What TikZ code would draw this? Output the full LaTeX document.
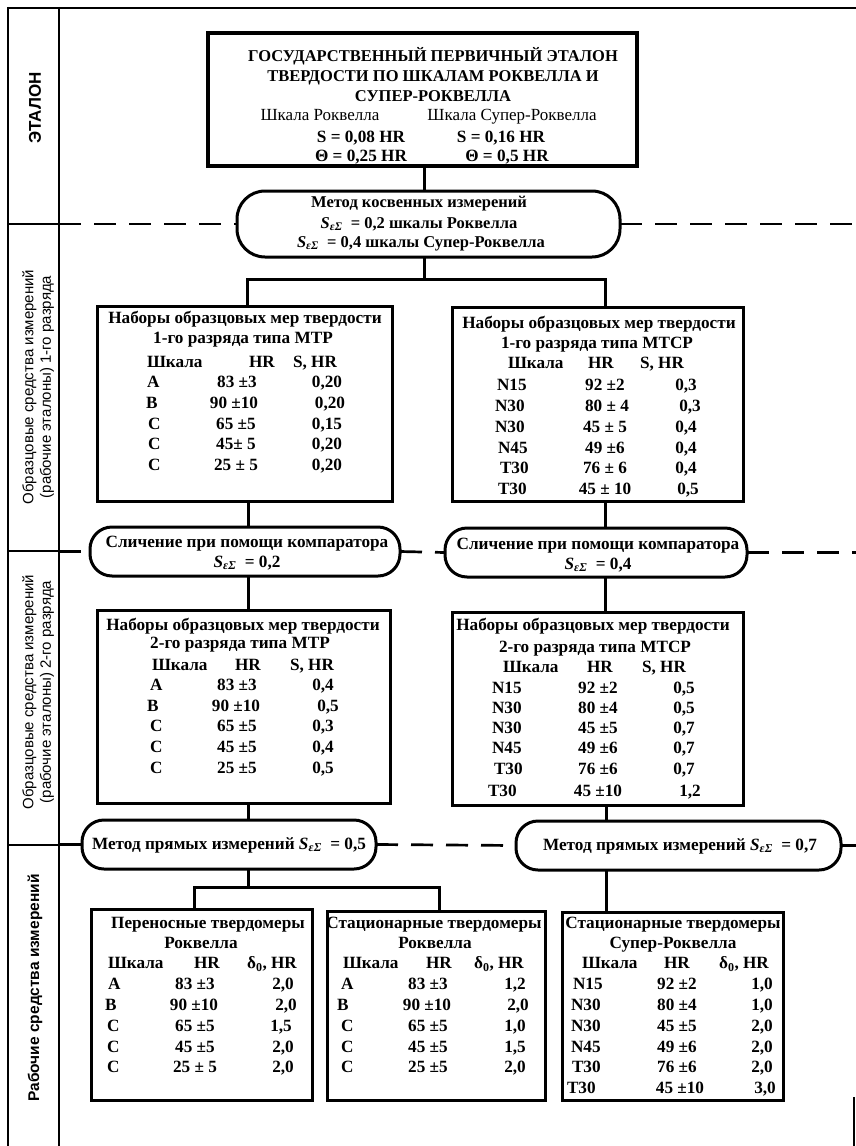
\documentclass[tikz,border=0pt]{standalone}
\usepackage{fontspec}
\setmainfont{Liberation Serif}
\setsansfont{Liberation Sans}
\newcommand\sig{{\itshape S}\textsubscript{\itshape ε\kern0.3ptΣ}}
\newcommand\dz{δ\textsubscript{0}}
\newcommand\fT{\fontsize{17.2}{20}\bfseries\selectfont}
\newcommand\fP{\fontsize{16.5}{20}\bfseries\selectfont}
\newcommand\fTitle{\fontsize{16.5}{20}\bfseries\selectfont}
\newcommand\fSc{\fontsize{17}{20}\selectfont}
\newcommand\mkbox[6]{\node[#6, minimum width={#4-#2}, minimum height={#5-#3}] (#1) at ({(#2+#4)/2},{(#3+#5)/2}) {};}
\newcommand\trow[8]{%
  \node[txtl] (#1a) at (#3,#2) {#4};
  \node[txt] (#1b) at (#5,#2) {#6};
  \node[txt] (#1c) at (#7,#2) {#8};}
\begin{document}
\begin{tikzpicture}[x=1pt,y=-1pt,
  every node/.style={inner sep=0pt, outer sep=0pt},
  frame/.style={line width=2.4pt},
  mbox/.style={draw, line width=3pt, rectangle},
  bigbox/.style={draw, line width=4.4pt, rectangle},
  pillA/.style={draw, line width=3pt, rectangle, rounded corners=28pt},
  pillB/.style={draw, line width=3pt, rectangle, rounded corners=22pt},
  conn/.style={line width=3pt},
  dashln/.style={line width=2.7pt, dash pattern=on 22pt off 13pt},
  txt/.style={font=\fT, anchor=base},
  txtl/.style={font=\fT, anchor=base west},
  ptxt/.style={font=\fP, anchor=base},
  ttl/.style={font=\fTitle, anchor=base},
  sctxt/.style={font=\fSc, anchor=base},
  side/.style={font=\sffamily\fontsize{15}{17.5}\selectfont, rotate=90, align=center},
  sideb/.style={font=\sffamily\bfseries\fontsize{17}{20}\selectfont, rotate=90},
  sidec/.style={font=\sffamily\bfseries\fontsize{15.5}{18}\selectfont, rotate=90}]
\useasboundingbox (0,0) rectangle (856,1146);
% frame and left column
\draw[frame] (8,8) -- (856,8);
\draw[frame] (8,6.8) -- (8,1146);
\draw[frame] (59,6.8) -- (59,1146);
\draw[frame] (8,224) -- (59,224);
\draw[frame] (8,551) -- (59,551);
\draw[frame] (8,845) -- (59,845);
\draw[line width=1.4pt] (854,1097) -- (854,1146);
\coordinate (cl) at (59,0);
\coordinate (cr) at (856,0);
\node[sideb] (l1) at (35,108) {ЭТАЛОН};
\node[side] (l2) at (38,387) {Образцовые средства измерений\\(рабочие эталоны) 1-го разряда};
\node[side] (l3) at (38,692) {Образцовые средства измерений\\(рабочие эталоны) 2-го разряда};
\node[sidec] (l4) at (35,988) {Рабочие средства измерений};
% top box
\mkbox{top}{208}{33}{637}{166}{bigbox}
\node[ttl] (t1) at (433,61) {ГОСУДАРСТВЕННЫЙ ПЕРВИЧНЫЙ ЭТАЛОН};
\node[ttl] (t2) at (433,81) {ТВЕРДОСТИ ПО ШКАЛАМ РОКВЕЛЛА И};
\node[ttl] (t3) at (433,101) {СУПЕР-РОКВЕЛЛА};
\node[sctxt] (t4) at (320,120) {Шкала Роквелла};
\node[sctxt] (t5) at (512,120) {Шкала Супер-Роквелла};
\node[txt] (t6) at (361,142) {S = 0,08 HR};
\node[txt] (t7) at (501,142) {S = 0,16 HR};
\node[txt] (t8) at (361,161) {Θ = 0,25 HR};
\node[txt] (t9) at (507,161) {Θ = 0,5 HR};
% top pill
\mkbox{p1}{237}{191}{620}{257}{pillA}
\node[ptxt] (p1a) at (419,207) {Метод косвенных измерений};
\node[ptxt] (p1b) at (419,228) {\sig~~=~0,2 шкалы Роквелла};
\node[ptxt] (p1c) at (421,247) {\sig~~=~0,4 шкалы Супер-Роквелла};
% first rank boxes
\mkbox{mtp1}{97}{306}{392}{501}{mbox}
\node[txt] (a1) at (245,323) {Наборы образцовых мер твердости};
\node[txt] (a2) at (243,343) {1-го разряда типа МТР};
\trow{a3}{367}{147}{Шкала}{262}{HR}{315}{S, HR}
\trow{a4}{387.5}{147}{A}{237}{83 ±3}{327}{0,20}
\trow{a5}{408.3}{146}{B}{234}{90 ±10}{330}{0,20}
\trow{a6}{429.1}{148}{C}{236}{65 ±5}{327}{0,15}
\trow{a7}{449.9}{148}{C}{236}{45± 5}{327}{0,20}
\trow{a8}{470.7}{148}{C}{236}{25 ± 5}{327}{0,20}
\mkbox{mtcp1}{452}{307}{743}{501}{mbox}
\node[txt] (b1) at (599,328) {Наборы образцовых мер твердости};
\node[txt] (b2) at (597,348) {1-го разряда типа МТСР};
\trow{b3}{368.5}{508}{Шкала}{601}{HR}{662}{S, HR}
\trow{b4}{390}{497}{N15}{605}{92 ±2}{686}{0,3}
\trow{b5}{411}{495}{N30}{607}{80 ± 4}{690}{0,3}
\trow{b6}{432}{495}{N30}{605}{45 ± 5}{686}{0,4}
\trow{b7}{453}{498}{N45}{605}{49 ±6}{686}{0,4}
\trow{b8}{473.5}{500}{T30}{605}{76 ± 6}{686}{0,4}
\trow{b9}{494}{498}{T30}{605}{45 ± 10}{688}{0,5}
% comparator pills
\mkbox{s1}{90}{527}{400}{576}{pillB}
\node[txt] (s1a) at (247,547) {Сличение при помощи компаратора};
\node[txt] (s1b) at (247,567) {\sig~~=~0,2};
\mkbox{s2}{445}{528}{747}{577}{pillB}
\node[txt] (s2a) at (598,549) {Сличение при помощи компаратора};
\node[txt] (s2b) at (598,569) {\sig~~=~0,4};
% second rank boxes
\mkbox{mtp2}{97}{610}{390}{803}{mbox}
\node[txt] (c1) at (243,630.5) {Наборы образцовых мер твердости};
\node[txt] (c2) at (240,648.5) {2-го разряда типа МТР};
\trow{c3}{670.5}{152}{Шкала}{248}{HR}{312}{S, HR}
\trow{c4}{690.5}{150}{A}{237}{83 ±3}{323}{0,4}
\trow{c5}{711.5}{147}{B}{236}{90 ±10}{328}{0,5}
\trow{c6}{731.5}{150}{C}{237}{65 ±5}{323}{0,3}
\trow{c7}{752.5}{150}{C}{237}{45 ±5}{323}{0,4}
\trow{c8}{773.5}{150}{C}{237}{25 ±5}{323}{0,5}
\mkbox{mtcp2}{452}{612}{743}{805}{mbox}
\node[txt] (d1) at (593,630.5) {Наборы образцовых мер твердости};
\node[txt] (d2) at (595,652.5) {2-го разряда типа МТСР};
\trow{d3}{672.5}{503}{Шкала}{600}{HR}{664}{S, HR}
\trow{d4}{693.5}{492}{N15}{598}{92 ±2}{684}{0,5}
\trow{d5}{713.5}{492}{N30}{598}{80 ±4}{684}{0,5}
\trow{d6}{733.5}{492}{N30}{598}{45 ±5}{684}{0,7}
\trow{d7}{753.5}{492}{N45}{598}{49 ±6}{684}{0,7}
\trow{d8}{774.5}{494}{T30}{598}{76 ±6}{684}{0,7}
\trow{d9}{796.5}{488}{T30}{598}{45 ±10}{690}{1,2}
% direct measurement pills
\mkbox{m1}{82}{820}{376}{869}{pillB}
\node[txt] (m1a) at (229,849) {Метод прямых измерений \sig~~=~0,5};
\mkbox{m2}{516}{821}{841}{870}{pillB}
\node[txt] (m2a) at (680,850) {Метод прямых измерений \sig~~=~0,7};
% working instruments
\mkbox{per}{91}{909}{312}{1100}{mbox}
\node[txt] (e1) at (208,928.5) {Переносные твердомеры};
\node[txt] (e2) at (201,948.5) {Роквелла};
\trow{e3}{968.5}{108}{Шкала}{207}{HR}{272}{\dz, HR}
\trow{e4}{989.5}{108}{A}{195}{83 ±3}{283}{2,0}
\trow{e5}{1010.5}{105}{B}{194}{90 ±10}{286}{2,0}
\trow{e6}{1031.5}{107}{C}{195}{65 ±5}{281}{1,5}
\trow{e7}{1052.5}{107}{C}{195}{45 ±5}{283}{2,0}
\trow{e8}{1072.5}{107}{C}{195}{25 ± 5}{283}{2,0}
\mkbox{st1}{327}{911}{545}{1100}{mbox}
\node[txt] (f1) at (434,928.5) {Стационарные твердомеры};
\node[txt] (f2) at (435,948.5) {Роквелла};
\trow{f3}{968.5}{343}{Шкала}{439}{HR}{499}{\dz, HR}
\trow{f4}{989.5}{341}{A}{428}{83 ±3}{515}{1,2}
\trow{f5}{1010.5}{337}{B}{427}{90 ±10}{518}{2,0}
\trow{f6}{1031.5}{341}{C}{428}{65 ±5}{515}{1,0}
\trow{f7}{1052.5}{341}{C}{428}{45 ±5}{515}{1,5}
\trow{f8}{1072.5}{341}{C}{428}{25 ±5}{515}{2,0}
\mkbox{st2}{562}{912}{783}{1100}{mbox}
\node[txt] (g1) at (673,928.5) {Стационарные твердомеры};
\node[txt] (g2) at (673,948.5) {Супер-Роквелла};
\trow{g3}{968.5}{582}{Шкала}{677}{HR}{744}{\dz, HR}
\trow{g4}{989.5}{573}{N15}{677}{92 ±2}{762}{1,0}
\trow{g5}{1010.5}{571}{N30}{677}{80 ±4}{762}{1,0}
\trow{g6}{1031.5}{571}{N30}{677}{45 ±5}{762}{2,0}
\trow{g7}{1052.5}{571}{N45}{677}{49 ±6}{762}{2,0}
\trow{g8}{1072.5}{572}{T30}{677}{76 ±6}{762}{2,0}
\trow{g9}{1093.5}{567}{T30}{680}{45 ±10}{765}{3,0}
% connectors
\coordinate (xc) at (424,0);
\coordinate (xl) at (248,0);
\coordinate (xr) at (605,0);
\coordinate (xr2) at (606,0);
\coordinate (j0) at (424,279);
\coordinate (jl) at (247,279);
\coordinate (jr) at (605,279);
\coordinate (j2) at (248,887);
\coordinate (j2l) at (194,887);
\coordinate (j2r) at (439,887);
\draw[conn] (top.south -| xc) -- (p1.north -| xc);
\draw[conn] (p1.south -| xc) -- (j0);
\draw[conn] (jl |- mtp1.north) -- (jl) -- (jr) -- (jr |- mtcp1.north);
\draw[conn] (mtp1.south -| xl) -- (s1.north -| xl);
\draw[conn] (s1.south -| xl) -- (mtp2.north -| xl);
\draw[conn] (mtcp1.south -| xr) -- (s2.north -| xr);
\draw[conn] (s2.south -| xr) -- (mtcp2.north -| xr);
\draw[conn] (mtp2.south -| xl) -- (m1.north -| xl);
\draw[conn] (m1.south -| xl) -- (j2);
\draw[conn] (j2l |- per.north) -- (j2l) -- (j2r) -- (j2r |- st1.north);
\draw[conn] (mtcp2.south -| xr2) -- (m2.north -| xr2);
\draw[conn] (m2.south -| xr2) -- (st2.north -| xr2);
% dashed level lines
\draw[dashln] (p1.west -| cl) -- (p1.west);
\draw[dashln] (p1.east) -- (p1.east -| cr);
\draw[dashln] (s1.west -| cl) -- (s1.west);
\draw[dashln] (s1.east) -- (s2.west);
\draw[dashln] (s2.east) -- (s2.east -| cr);
\draw[dashln] (m1.west -| cl) -- (m1.west);
\draw[dashln] (m1.east) -- (m2.west);
\draw[dashln] (m2.east) -- (m2.east -| cr);
\end{tikzpicture}
\end{document}
